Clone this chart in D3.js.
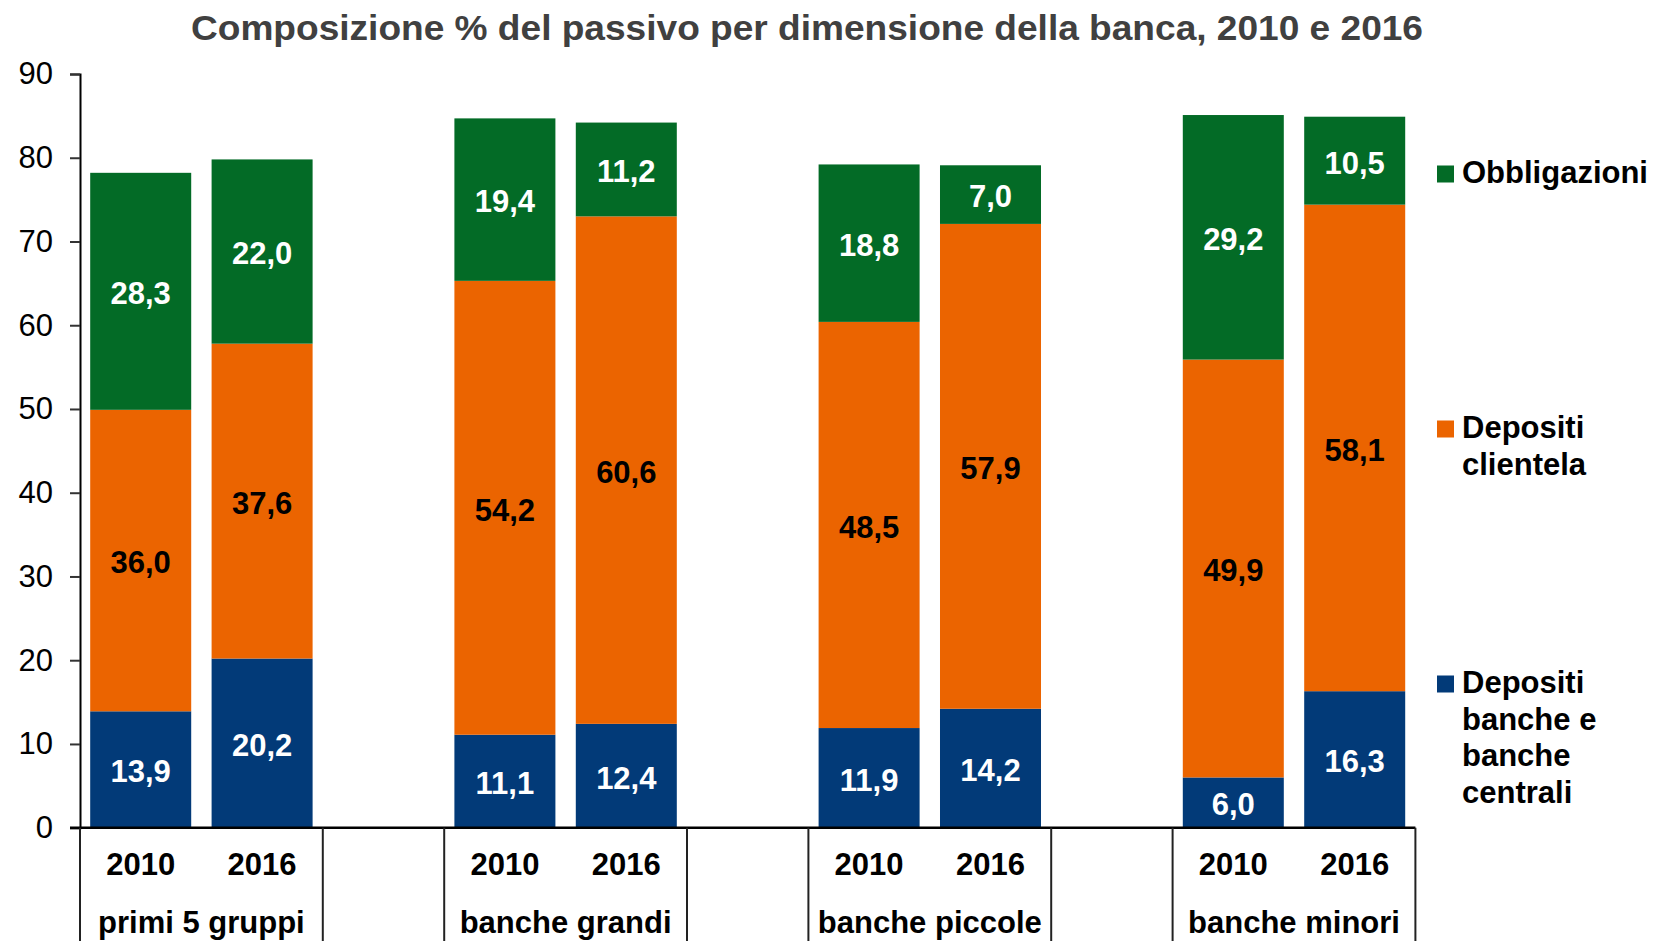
<!DOCTYPE html>
<html>
<head>
<meta charset="utf-8">
<script src="https://cdn.jsdelivr.net/npm/d3@7"></script>
<style>
body { margin: 0; background: #fff; }
svg { display: block; font-family: Arial, "Liberation Sans", sans-serif; }
</style>
</head>
<body>
<svg id="chart" width="1657" height="941"></svg>
<script>
// data
var groups = ["primi 5 gruppi", "banche grandi", "banche piccole", "banche minori"];
var years = ["2010", "2016"];
var depBanche = [13.9, 20.2, 11.1, 12.4, 11.9, 14.2, 6.0, 16.3];
var depClientela = [36.0, 37.6, 54.2, 60.6, 48.5, 57.9, 49.9, 58.1];
var obbligazioni = [28.3, 22.0, 19.4, 11.2, 18.8, 7.0, 29.2, 10.5];
var yTicks = [0, 10, 20, 30, 40, 50, 60, 70, 80, 90];

var seriesColors = ["#023a78", "#eb6400", "#036b26"];
var labelColors = ["#fff", "#000", "#fff"];

var svg = d3.select("#chart");
var plotLeft = 80, plotRight = 1415.4, plotTop = 74, plotBottom = 827.7;

// slots: two bars per group plus a spacer between groups
var slots = [];
groups.forEach(function(g, gi){
	years.forEach(function(y){ slots.push(g + "|" + y); });
	if(gi < groups.length - 1) slots.push(g + "|gap");
});

var x = d3.scaleBand().domain(slots).range([plotLeft, plotRight])
	.paddingInner(0.168).paddingOuter(0.084);
var step = x.step();
var y = d3.scaleLinear().domain([0, 90]).range([plotBottom, plotTop]);

// build rows for stacking
var rows = [];
groups.forEach(function(g, gi){
	years.forEach(function(yr, yi){
		var i = gi * 2 + yi;
		rows.push({key: g + "|" + yr, s0: depBanche[i], s1: depClientela[i], s2: obbligazioni[i]});
	});
});
var stacked = d3.stack().keys(["s0", "s1", "s2"])(rows);

// title
svg.append("text")
	.attr("x", 807).attr("y", 40)
	.attr("text-anchor", "middle")
	.attr("font-size", 35).attr("font-weight", "bold")
	.attr("fill", "#404040")
	.attr("textLength", 1232).attr("lengthAdjust", "spacingAndGlyphs")
	.text("Composizione % del passivo per dimensione della banca, 2010 e 2016");

// bars
stacked.forEach(function(layer, si){
	var g = svg.append("g");
	g.selectAll("rect")
		.data(layer)
		.enter()
		.append("rect")
		.attr("x", function(d){ return x(d.data.key); })
		.attr("width", x.bandwidth())
		.attr("y", function(d){ return y(d[1]); })
		.attr("height", function(d){ return y(d[0]) - y(d[1]); })
		.attr("fill", seriesColors[si]);

	g.selectAll("text")
		.data(layer)
		.enter()
		.append("text")
		.attr("x", function(d){ return x(d.data.key) + x.bandwidth() / 2; })
		.attr("y", function(d){ return y((d[0] + d[1]) / 2) + 2; })
		.attr("dy", "0.35em")
		.attr("text-anchor", "middle")
		.attr("font-size", 31).attr("font-weight", "bold")
		.attr("fill", labelColors[si])
		.text(function(d){ return (d[1] - d[0]).toFixed(1).replace(".", ","); });
});

// y axis
var yAxis = svg.append("g")
	.attr("transform", "translate(" + plotLeft + ",0)")
	.call(d3.axisLeft(y).tickValues(yTicks).tickSize(10).tickPadding(17)
		.tickFormat(function(d){ return d; }));
yAxis.select(".domain").attr("stroke", "#000").attr("stroke-width", 2);
yAxis.selectAll(".tick line").attr("stroke", "#333").attr("stroke-width", 2);
yAxis.selectAll(".tick text").attr("font-size", 31).attr("fill", "#000")
	.attr("font-family", "Arial, 'Liberation Sans', sans-serif");

// x axis line
svg.append("line")
	.attr("x1", plotLeft - 10).attr("x2", plotRight)
	.attr("y1", plotBottom).attr("y2", plotBottom)
	.attr("stroke", "#000").attr("stroke-width", 2.5);

// group boxes below the axis
groups.forEach(function(g, gi){
	var x0 = plotLeft + gi * 3 * step;
	var x1 = x0 + 2 * step;
	[x0, x1].forEach(function(xx){
		svg.append("line")
			.attr("x1", xx).attr("x2", xx)
			.attr("y1", plotBottom).attr("y2", 941)
			.attr("stroke", "#222").attr("stroke-width", 2);
	});
	years.forEach(function(yr){
		svg.append("text")
			.attr("x", x(g + "|" + yr) + x.bandwidth() / 2)
			.attr("y", 875)
			.attr("text-anchor", "middle")
			.attr("font-size", 31).attr("font-weight", "bold")
			.attr("fill", "#000")
			.text(yr);
	});
	svg.append("text")
		.attr("x", (x0 + x1) / 2)
		.attr("y", 933)
		.attr("text-anchor", "middle")
		.attr("font-size", 31).attr("font-weight", "bold")
		.attr("fill", "#000")
		.text(g);
});

// legend
var legendItems = [
	{si: 2, lines: ["Obbligazioni"], y: 174},
	{si: 1, lines: ["Depositi", "clientela"], y: 429},
	{si: 0, lines: ["Depositi", "banche e", "banche", "centrali"], y: 684}
];
legendItems.forEach(function(item){
	svg.append("rect")
		.attr("x", 1437).attr("y", item.y - 8.5)
		.attr("width", 17).attr("height", 17)
		.attr("fill", seriesColors[item.si]);
	var t = svg.append("text")
		.attr("x", 1462).attr("y", item.y + 9)
		.attr("font-size", 31).attr("font-weight", "bold")
		.attr("fill", "#000");
	item.lines.forEach(function(l, li){
		t.append("tspan").attr("x", 1462).attr("dy", li == 0 ? 0 : 36.7).text(l);
	});
});
</script>
</body>
</html>
